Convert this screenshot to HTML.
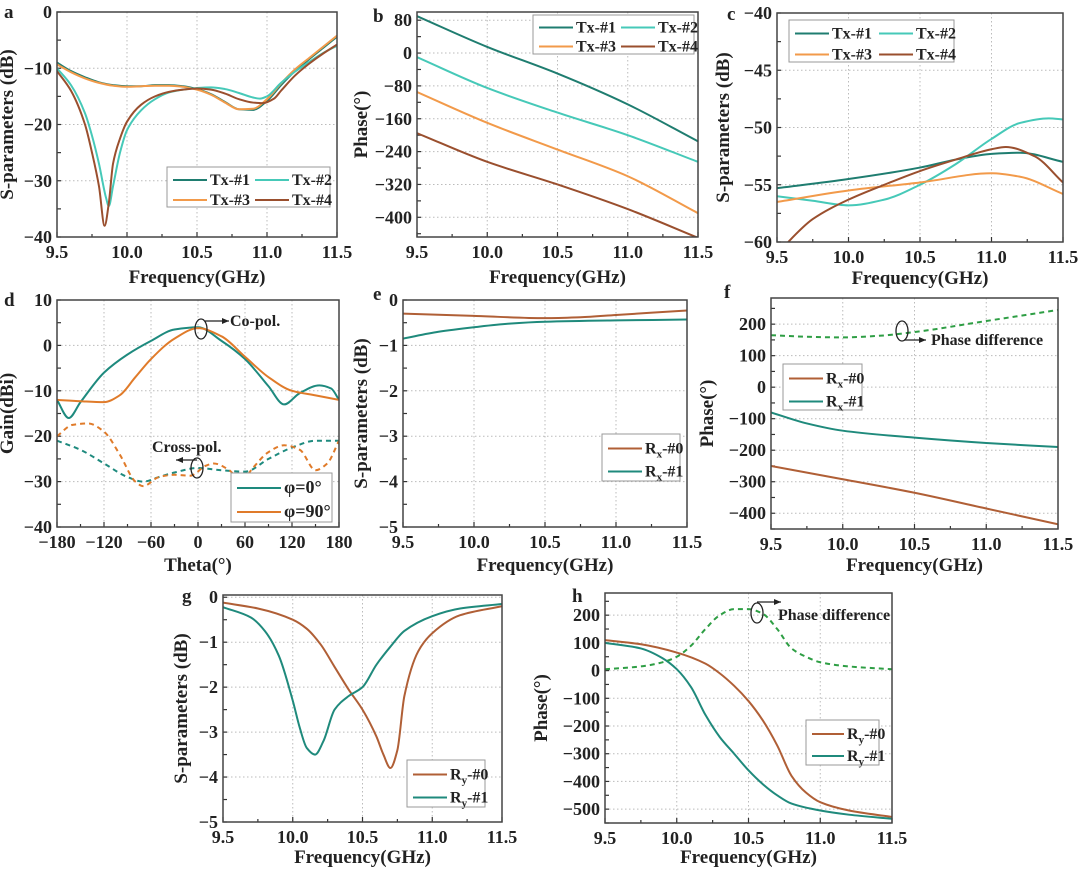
<!DOCTYPE html>
<html><head><meta charset="utf-8"><style>
html,body{margin:0;padding:0;background:#fff;}
text{font-family:"Liberation Serif","DejaVu Serif",serif;font-weight:700;fill:#222;}
</style></head><body>
<svg id="fig" width="1080" height="871" viewBox="0 0 1080 871" xmlns="http://www.w3.org/2000/svg"></svg>
<script>
// ---- data ----
const fA = [9.5,9.6,9.7,9.8,9.9,10.0,10.1,10.2,10.3,10.4,10.5,10.6,10.7,10.8,10.9,11.0,11.1,11.2,11.3,11.4,11.5];
const aTx1 = [-9,-10.5,-11.6,-12.5,-13,-13.2,-13.2,-13,-13,-13.2,-13.7,-14.6,-16,-17.3,-17.4,-15.8,-13,-10.5,-8.4,-6.4,-4.4];
const aTx3 = [-9.3,-10.7,-11.8,-12.6,-13.1,-13.3,-13.2,-13.1,-13.1,-13.3,-13.8,-14.7,-16.1,-17.3,-17.2,-15.5,-12.7,-10.2,-8.2,-6.2,-4.2];
const fA2 = [9.5,9.6,9.7,9.75,9.8,9.85,9.87,9.9,9.95,10.0,10.1,10.2,10.3,10.4,10.5,10.6,10.7,10.8,10.9,10.95,11.0,11.1,11.2,11.3,11.4,11.5];
const aTx2 = [-10,-13,-18,-22,-27,-33,-34.5,-31,-25,-21,-17.5,-15.5,-14.3,-13.8,-13.5,-13.4,-13.7,-14.4,-15.2,-15.4,-15,-12.6,-10.6,-8.9,-7.3,-6];
const fA4 = [9.5,9.6,9.7,9.75,9.8,9.84,9.87,9.9,9.95,10.0,10.1,10.2,10.3,10.4,10.5,10.6,10.7,10.8,10.9,10.97,11.05,11.1,11.2,11.3,11.4,11.5];
const aTx4 = [-10.5,-14,-20,-25,-31,-38,-34,-27,-22.5,-19.5,-16.5,-15,-14.2,-13.8,-13.6,-13.8,-14.5,-15.5,-16.1,-16.2,-15.4,-14,-11.3,-9.2,-7.4,-5.8];

const fB = [9.5,10.0,10.5,11.0,11.5];
const bTx1 = [90,15,-50,-125,-215];
const bTx2 = [-10,-85,-145,-200,-265];
const bTx3 = [-95,-170,-235,-300,-390];
const bTx4 = [-195,-265,-320,-380,-450];

const fC1 = [9.5,10.0,10.5,10.75,11.0,11.2,11.5];
const cTx1 = [-55.3,-54.5,-53.5,-52.8,-52.3,-52.2,-53];
const fC2 = [9.5,9.75,10.0,10.25,10.5,10.75,11.0,11.2,11.4,11.5];
const cTx2 = [-56,-56.4,-56.8,-56.3,-55,-53.2,-51,-49.6,-49.2,-49.3];
const fC3 = [9.5,10.0,10.5,11.0,11.2,11.5];
const cTx3 = [-56.5,-55.5,-54.8,-54,-54.3,-55.8];
const fC4 = [9.5,9.75,10.0,10.25,10.5,10.75,11.0,11.1,11.3,11.5];
const cTx4 = [-61,-58,-56.3,-55,-53.8,-52.8,-51.9,-51.7,-52.5,-54.8];

const thD1 = [-180,-165,-150,-120,-90,-60,-30,0,30,60,90,110,130,155,170,180];
const dCo0 = [-12,-16,-12.5,-6,-2,1,3.5,4,1,-3,-9,-13,-10.5,-8.8,-9.5,-12];
const thD2 = [-180,-150,-120,-100,-80,-60,-30,0,30,60,90,120,150,180];
const dCo90 = [-12,-12.3,-12.5,-11,-7,-3,1.5,3.8,2,-2.5,-7,-10,-11,-12];
const thD3 = [-180,-150,-120,-90,-70,-50,-30,0,30,60,90,120,150,180];
const dX0 = [-21,-23,-26,-29,-30,-29,-28,-27,-27.5,-27.8,-25,-22.5,-21,-21];
const thD4 = [-180,-160,-140,-120,-100,-80,-70,-50,-30,-10,10,20,40,55,70,90,110,130,150,165,180];
const dX90 = [-20,-17.5,-17.2,-19,-24,-30,-31,-29,-28.5,-28.7,-26.5,-26,-27.5,-30,-27,-23.5,-22,-23,-27.5,-26,-21];

const fE1 = [9.5,10.0,10.5,10.75,11.0,11.5];
const eRx0 = [-0.3,-0.35,-0.4,-0.38,-0.33,-0.23];
const fE2 = [9.5,9.75,10.0,10.25,10.5,11.0,11.5];
const eRx1 = [-0.85,-0.7,-0.6,-0.52,-0.48,-0.45,-0.43];

const fF1 = [9.5,10.0,10.5,11.0,11.5];
const fRx0 = [-250,-292,-335,-385,-435];
const fF2 = [9.5,9.75,10.0,10.5,11.0,11.5];
const fRx1 = [-80,-115,-138,-160,-177,-190];
const fF3 = [9.5,9.75,10.0,10.25,10.5,11.0,11.5];
const fDiff = [165,160,158,163,175,210,245];

const fG1 = [9.5,9.75,10.0,10.1,10.2,10.3,10.4,10.5,10.6,10.65,10.7,10.75,10.8,10.9,11.0,11.2,11.5];
const gRy0 = [-0.12,-0.25,-0.5,-0.7,-1.05,-1.55,-2.05,-2.5,-3.1,-3.5,-3.8,-3.4,-2.2,-1.2,-0.8,-0.4,-0.2];
const fG2 = [9.5,9.7,9.8,9.9,10.0,10.05,10.1,10.16,10.22,10.3,10.4,10.5,10.6,10.7,10.8,11.0,11.2,11.5];
const gRy1 = [-0.22,-0.45,-0.75,-1.3,-2.3,-2.9,-3.35,-3.5,-3.2,-2.5,-2.2,-2.0,-1.5,-1.1,-0.75,-0.42,-0.25,-0.15];

const fH1 = [9.5,9.75,10.0,10.2,10.3,10.4,10.5,10.6,10.7,10.8,10.9,11.0,11.2,11.5];
const hRy0 = [110,95,65,25,-10,-55,-110,-180,-270,-380,-440,-475,-505,-528];
const fH2 = [9.5,9.75,9.9,10.0,10.1,10.2,10.3,10.4,10.5,10.6,10.7,10.8,11.0,11.2,11.5];
const hRy1 = [100,80,45,5,-60,-160,-240,-300,-360,-410,-450,-480,-505,-520,-535];
const fH3 = [9.5,9.75,9.9,10.0,10.1,10.2,10.3,10.4,10.5,10.6,10.7,10.8,10.9,11.0,11.2,11.5];
const hDiff = [5,15,30,50,90,150,200,222,222,205,150,80,50,30,15,5];

const freqTicks = [9.5,10.0,10.5,11.0,11.5];
const freqTickLabels = ["9.5","10.0","10.5","11.0","11.5"];

// ---- helpers ----
const NS="http://www.w3.org/2000/svg";
const svg=document.getElementById('fig');
function mk(tag,attrs,parent){const e=document.createElementNS(NS,tag);for(const k in attrs)e.setAttribute(k,attrs[k]);if(tag==='text')e.setAttribute('font-weight','bold');(parent||svg).appendChild(e);return e;}
function smooth(pts){
  const n=pts.length;
  const dx=[],dy=[],m=[];
  for(let i=0;i<n-1;i++){dx.push(pts[i+1][0]-pts[i][0]);dy.push(pts[i+1][1]-pts[i][1]);m.push(dy[i]/dx[i]);}
  const t=new Array(n);
  t[0]=m[0];t[n-1]=m[n-2];
  for(let i=1;i<n-1;i++){
    if(m[i-1]*m[i]<=0)t[i]=0;
    else{const w1=2*dx[i]+dx[i-1],w2=dx[i]+2*dx[i-1];t[i]=(w1+w2)/(w1/m[i-1]+w2/m[i]);}
  }
  let d="M"+pts[0][0].toFixed(2)+","+pts[0][1].toFixed(2);
  for(let i=0;i<n-1;i++){
    const h=dx[i]/3;
    d+=" C"+(pts[i][0]+h).toFixed(2)+","+(pts[i][1]+t[i]*h).toFixed(2)+" "+(pts[i+1][0]-h).toFixed(2)+","+(pts[i+1][1]-t[i+1]*h).toFixed(2)+" "+pts[i+1][0].toFixed(2)+","+pts[i+1][1].toFixed(2);
  }
  return d;
}
let clipId=0;
function panel(o){
  const g=mk('g',{});
  
  
  const X=v=>o.L+(v-o.x0)/(o.x1-o.x0)*(o.R-o.L);
  const Y=v=>o.B-(v-o.y0)/(o.y1-o.y0)*(o.B-o.T);
  o.xt.forEach(v=>{const gl=mk('line',{x1:X(v),x2:X(v),y1:o.T,y2:o.B,stroke:'#bbb','stroke-width':1,'stroke-dasharray':'1.5,2.5'},g);});
  o.yt.forEach(v=>{const gl=mk('line',{x1:o.L,x2:o.R,y1:Y(v),y2:Y(v),stroke:'#bbb','stroke-width':1,'stroke-dasharray':'1.5,2.5'},g);});
  const xs=(o.xt[1]-o.xt[0])/2, ys=(o.yt[1]-o.yt[0])/2;
  for(let v=o.xt[0];v<=o.x1+1e-9;v+=xs){const maj=Math.abs(((v-o.xt[0])/xs)%2)<1e-6;mk('line',{x1:X(v),x2:X(v),y1:o.B,y2:o.B-(maj?5:3),stroke:'#333','stroke-width':1.2},g);}
  for(let v=o.yt[0]-ys*4;v<=o.y1+1e-9;v+=ys){if(v<o.y0-1e-9)continue;mk('line',{x1:o.L,x2:o.L+4,y1:Y(v),y2:Y(v),stroke:'#333','stroke-width':1.2},g);}
  o.xt.forEach((v,i)=>{const t=mk('text',{x:X(v),y:o.B+21,'text-anchor':'middle','font-size':18},g);t.textContent=o.xl[i];});
  o.yt.forEach((v,i)=>{const t=mk('text',{x:o.L-5,y:Y(v)+6,'text-anchor':'end','font-size':18},g);t.textContent=o.yl[i];});
  const xt=mk('text',{x:(o.L+o.R)/2,y:o.B+(o.xtoff||45),'text-anchor':'middle','font-size':19},g);xt.textContent=o.xtitle;
  
  const yx=o.L-o.yoff, yy=(o.T+o.B)/2;
  const yt=mk('text',{x:yx,y:yy,'text-anchor':'middle','font-size':19,transform:`rotate(-90 ${yx} ${yy})`},g);yt.textContent=o.ytitle;
  
  const lt=mk('text',{x:o.lx,y:o.ly,'font-size':19},g);lt.textContent=o.letter;
  
  const cid='c'+(clipId++);
  const cp=mk('clipPath',{id:cid},g);mk('rect',{x:o.L,y:o.T,width:o.R-o.L,height:o.B-o.T},cp);
  const sg=mk('g',{'clip-path':`url(#${cid})`},g);
  o.series.forEach(s=>{
    const pts=s.x.map((v,i)=>[X(v),Y(s.y[i])]);
    const p=mk('path',{d:smooth(pts),fill:'none',stroke:s.c,'stroke-width':2,'stroke-dasharray':s.dash||'none'},sg);
    
    
  });
  const fr=mk('rect',{x:o.L,y:o.T,width:o.R-o.L,height:o.B-o.T,fill:'none',stroke:'#444','stroke-width':1.5},g);
  
  if(o.leg){
    const lg=mk('g',{},g);
    
    
    const L=o.leg;
    mk('rect',{x:L.x,y:L.y,width:L.w,height:L.h,fill:'#fff',stroke:'#999','stroke-width':1},lg);
    L.items.forEach((it,i)=>{
      const col=i%L.cols,row=Math.floor(i/L.cols);
      const cx=L.x+6+col*L.cw, cy=L.y+L.rh/2+3+row*L.rh;
      mk('line',{x1:cx,x2:cx+L.ll,y1:cy,y2:cy,stroke:it.c,'stroke-width':2},lg);
      const t=mk('text',{x:cx+L.ll+3,y:cy+5,'font-size':L.fs||16},lg);
      t.innerHTML=it.t;
      
      
    });
  }
  return {g,X,Y};
}
const C1='#1f7d70',C2='#46c9b8',C3='#f29a4a',C4='#9a4f2e',RB='#b05f36',RT='#1f8a7c',PD='#2e9e44';
const txLeg=[{t:'Tx-#1',c:C1},{t:'Tx-#2',c:C2},{t:'Tx-#3',c:C3},{t:'Tx-#4',c:C4}];
const rxLeg=[{t:'R<tspan font-size="11" dy="4">x</tspan><tspan dy="-4">-#0</tspan>',c:RB},{t:'R<tspan font-size="11" dy="4">x</tspan><tspan dy="-4">-#1</tspan>',c:RT}];
const ryLeg=[{t:'R<tspan font-size="11" dy="4">y</tspan><tspan dy="-4">-#0</tspan>',c:RB},{t:'R<tspan font-size="11" dy="4">y</tspan><tspan dy="-4">-#1</tspan>',c:RT}];

panel({name:'panel-a',letter:'a',lx:4,ly:18,L:57,R:337,T:12,B:237,x0:9.5,x1:11.5,y0:-40,y1:0,
  xt:freqTicks,xl:freqTickLabels,yt:[-40,-30,-20,-10,0],yl:['\u221240','\u221230','\u221220','\u221210','0'],
  xtitle:'Frequency(GHz)',ytitle:'S-parameters (dB)',yoff:44,xtoff:46,
  series:[{n:'line-tx1',x:fA,y:aTx1,c:C1},{n:'line-tx3',x:fA,y:aTx3,c:C3},{n:'line-tx2',x:fA2,y:aTx2,c:C2},{n:'line-tx4',x:fA4,y:aTx4,c:C4}],
  leg:{x:167,y:167,w:163,h:40,cols:2,cw:82,rh:20,ll:34,items:txLeg}});

panel({name:'panel-b',letter:'b',lx:373,ly:22,L:417,R:698,T:12,B:237,x0:9.5,x1:11.5,y0:-448,y1:100,
  xt:freqTicks,xl:freqTickLabels,yt:[-400,-320,-240,-160,-80,0,80],yl:['\u2212400','\u2212320','\u2212240','\u2212160','\u221280','0','80'],
  xtitle:'Frequency(GHz)',ytitle:'Phase(\u00b0)',yoff:50,xtoff:46,
  series:[{n:'line-tx1',x:fB,y:bTx1,c:C1},{n:'line-tx2',x:fB,y:bTx2,c:C2},{n:'line-tx3',x:fB,y:bTx3,c:C3},{n:'line-tx4',x:fB,y:bTx4,c:C4}],
  leg:{x:533,y:15,w:161,h:39,cols:2,cw:82,rh:19,ll:34,items:txLeg}});

panel({name:'panel-c',letter:'c',lx:727,ly:20,L:777,R:1063,T:13,B:242,x0:9.5,x1:11.5,y0:-60,y1:-40,
  xt:freqTicks,xl:freqTickLabels,yt:[-60,-55,-50,-45,-40],yl:['\u221260','\u221255','\u221250','\u221245','\u221240'],
  xtitle:'Frequency(GHz)',ytitle:'S-parameters (dB)',yoff:48,xtoff:42,
  series:[{n:'line-tx1',x:fC1,y:cTx1,c:C1},{n:'line-tx2',x:fC2,y:cTx2,c:C2},{n:'line-tx3',x:fC3,y:cTx3,c:C3},{n:'line-tx4',x:fC4,y:cTx4,c:C4}],
  leg:{x:789,y:20,w:165,h:42,cols:2,cw:84,rh:21,ll:34,items:txLeg}});

panel({name:'panel-d',letter:'d',lx:4,ly:306,L:57,R:339,T:300,B:527,x0:-180,x1:180,y0:-40,y1:10,
  xt:[-180,-120,-60,0,60,120,180],xl:['\u2212180','\u2212120','\u221260','0','60','120','180'],
  yt:[-40,-30,-20,-10,0,10],yl:['\u221240','\u221230','\u221220','\u221210','0','10'],
  xtitle:'Theta(\u00b0)',ytitle:'Gain(dBi)',yoff:44,xtoff:44,
  series:[{n:'co-pol-phi0',x:thD1,y:dCo0,c:'#1e8a7e'},{n:'co-pol-phi90',x:thD2,y:dCo90,c:'#e07b2a'},
    {n:'cross-pol-phi0',x:thD3,y:dX0,c:'#1e8a7e',dash:'5,4'},{n:'cross-pol-phi90',x:thD4,y:dX90,c:'#e07b2a',dash:'5,4'}],
  leg:{x:231,y:473,w:101,h:49,cols:1,cw:100,rh:24,ll:44,fs:18,items:[{t:'\u03c6=0\u00b0',c:'#1e8a7e'},{t:'\u03c6=90\u00b0',c:'#e07b2a'}]}});

panel({name:'panel-e',letter:'e',lx:373,ly:300,L:403,R:687,T:300,B:527,x0:9.5,x1:11.5,y0:-5,y1:0,
  xt:freqTicks,xl:freqTickLabels,yt:[-5,-4,-3,-2,-1,0],yl:['\u22125','\u22124','\u22123','\u22122','\u22121','0'],
  xtitle:'Frequency(GHz)',ytitle:'S-parameters (dB)',yoff:36,xtoff:44,
  series:[{n:'line-rx0',x:fE1,y:eRx0,c:RB},{n:'line-rx1',x:fE2,y:eRx1,c:RT}],
  leg:{x:602,y:434,w:78,h:47,cols:1,cw:78,rh:23,ll:34,items:rxLeg}});

panel({name:'panel-f',letter:'f',lx:724,ly:298,L:771,R:1058,T:298,B:529,x0:9.5,x1:11.5,y0:-450,y1:283,
  xt:freqTicks,xl:freqTickLabels,yt:[-400,-300,-200,-100,0,100,200],yl:['\u2212400','\u2212300','\u2212200','\u2212100','0','100','200'],
  xtitle:'Frequency(GHz)',ytitle:'Phase(\u00b0)',yoff:58,xtoff:42,
  series:[{n:'line-rx0',x:fF1,y:fRx0,c:RB},{n:'line-rx1',x:fF2,y:fRx1,c:RT},{n:'phase-difference',x:fF3,y:fDiff,c:PD,dash:'5,4'}],
  leg:{x:783,y:364,w:79,h:46,cols:1,cw:78,rh:23,ll:34,items:rxLeg}});

panel({name:'panel-g',letter:'g',lx:182,ly:602,L:223,R:502,T:595,B:822,x0:9.5,x1:11.5,y0:-5,y1:0.05,
  xt:freqTicks,xl:freqTickLabels,yt:[-5,-4,-3,-2,-1,0],yl:['\u22125','\u22124','\u22123','\u22122','\u22121','0'],
  xtitle:'Frequency(GHz)',ytitle:'S-parameters (dB)',yoff:36,xtoff:41,
  series:[{n:'line-ry0',x:fG1,y:gRy0,c:RB},{n:'line-ry1',x:fG2,y:gRy1,c:RT}],
  leg:{x:407,y:760,w:78,h:47,cols:1,cw:78,rh:23,ll:34,items:ryLeg}});

panel({name:'panel-h',letter:'h',lx:572,ly:602,L:605,R:892,T:593,B:823,x0:9.5,x1:11.5,y0:-550,y1:280,
  xt:freqTicks,xl:freqTickLabels,yt:[-500,-400,-300,-200,-100,0,100,200],yl:['\u2212500','\u2212400','\u2212300','\u2212200','\u2212100','0','100','200'],
  xtitle:'Frequency(GHz)',ytitle:'Phase(\u00b0)',yoff:58,xtoff:40,
  series:[{n:'line-ry0',x:fH1,y:hRy0,c:RB},{n:'line-ry1',x:fH2,y:hRy1,c:RT},{n:'phase-difference',x:fH3,y:hDiff,c:PD,dash:'5,4'}],
  leg:{x:806,y:720,w:73,h:45,cols:1,cw:72,rh:22,ll:32,items:ryLeg}});

function annot(name,ex,ey,ax1,ax2,ay,tx,ty,txt){
  const g=mk('g',{});
  
  
  mk('ellipse',{cx:ex,cy:ey,rx:6,ry:10,fill:'none',stroke:'#222','stroke-width':1.3},g);
  mk('line',{x1:ax1,x2:ax2,y1:ay,y2:ay,stroke:'#222','stroke-width':1.3},g);
  const dir=ax2>ax1?1:-1;
  mk('polygon',{points:`${ax2},${ay} ${ax2-dir*7},${ay-3} ${ax2-dir*7},${ay+3}`,fill:'#222'},g);
  const t=mk('text',{x:tx,y:ty,'font-size':16},g);t.textContent=txt;
}
annot('co-pol-annotation',201,329,205,229,321,230,326,'Co-pol.');
annot('cross-pol-annotation',197,468,197,176,460,152,452,'Cross-pol.');
annot('phase-difference-annotation-f',902,331,904,926,340,931,345,'Phase difference');
annot('phase-difference-annotation-h',757,613,757,781,602,778,620,'Phase difference');
</script>
</body></html>
